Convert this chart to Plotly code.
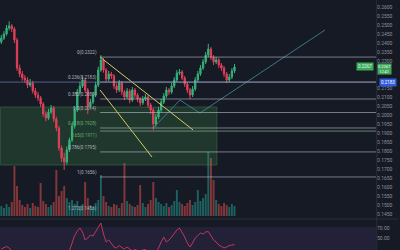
import plotly.graph_objects as go

# ---------------- data ----------------
first_open = 0.2406
close = [0.2428, 0.2450, 0.2483, 0.2495, 0.2478, 0.2417, 0.2261, 0.2228, 0.2206, 0.2195,
         0.2167, 0.2178, 0.2133, 0.2111, 0.2095, 0.2061, 0.2006, 0.1983, 0.2017, 0.2039,
         0.1978, 0.1928, 0.1817, 0.1761, 0.1739, 0.1806, 0.1861, 0.1939, 0.2028, 0.2128,
         0.2161, 0.2195, 0.2139, 0.2050, 0.2072, 0.2111, 0.2167, 0.2250, 0.2306, 0.2250,
         0.2200, 0.2228, 0.2217, 0.2161, 0.2139, 0.2178, 0.2128, 0.2100, 0.2133, 0.2083,
         0.2139, 0.2111, 0.2089, 0.2067, 0.2089, 0.2100, 0.2056, 0.2028, 0.1950, 0.1989,
         0.2028, 0.2072, 0.2106, 0.2139, 0.2128, 0.2161, 0.2195, 0.2233, 0.2239, 0.2206,
         0.2172, 0.2139, 0.2111, 0.2145, 0.2195, 0.2228, 0.2261, 0.2295, 0.2333, 0.2367,
         0.2322, 0.2295, 0.2306, 0.2278, 0.2261, 0.2228, 0.2195, 0.2211, 0.2245, 0.2267]
high = [0.2445, 0.2466, 0.2500, 0.2520, 0.2505, 0.2489, 0.2428, 0.2280, 0.2245, 0.2222,
        0.2210, 0.2200, 0.2190, 0.2150, 0.2128, 0.2106, 0.2072, 0.2020, 0.2035, 0.2056,
        0.2050, 0.1990, 0.1940, 0.1830, 0.1790, 0.1825, 0.1875, 0.1955, 0.2045, 0.2145,
        0.2185, 0.2215, 0.2206, 0.2150, 0.2090, 0.2128, 0.2185, 0.2268, 0.2333, 0.2317,
        0.2261, 0.2245, 0.2240, 0.2228, 0.2175, 0.2195, 0.2189, 0.2140, 0.2150, 0.2145,
        0.2156, 0.2150, 0.2122, 0.2100, 0.2106, 0.2117, 0.2111, 0.2067, 0.2040, 0.2006,
        0.2045, 0.2089, 0.2122, 0.2156, 0.2150, 0.2178, 0.2211, 0.2250, 0.2256, 0.2250,
        0.2217, 0.2183, 0.2150, 0.2161, 0.2211, 0.2245, 0.2278, 0.2311, 0.2350, 0.2395,
        0.2378, 0.2333, 0.2322, 0.2317, 0.2289, 0.2272, 0.2239, 0.2228, 0.2261, 0.2283]
low = [0.2395, 0.2417, 0.2440, 0.2470, 0.2461, 0.2400, 0.2245, 0.2211, 0.2190, 0.2178,
       0.2150, 0.2155, 0.2120, 0.2095, 0.2078, 0.2045, 0.1990, 0.1965, 0.1972, 0.2006,
       0.1961, 0.1910, 0.1800, 0.1740, 0.1695, 0.1725, 0.1795, 0.1850, 0.1925, 0.2017,
       0.2115, 0.2150, 0.2125, 0.2005, 0.2035, 0.2060, 0.2100, 0.2155, 0.2240, 0.2235,
       0.2185, 0.2189, 0.2200, 0.2145, 0.2122, 0.2128, 0.2110, 0.2083, 0.2089, 0.2065,
       0.2072, 0.2095, 0.2072, 0.2050, 0.2056, 0.2078, 0.2039, 0.2006, 0.1917, 0.1935,
       0.1978, 0.2017, 0.2061, 0.2095, 0.2111, 0.2117, 0.2150, 0.2183, 0.2222, 0.2195,
       0.2156, 0.2122, 0.2089, 0.2100, 0.2133, 0.2183, 0.2217, 0.2250, 0.2283, 0.2322,
       0.2306, 0.2278, 0.2283, 0.2261, 0.2245, 0.2211, 0.2178, 0.2183, 0.2200, 0.2233]
volume = [10, 8, 12, 9, 14, 50, 30, 16, 11, 9,
          12, 8, 13, 10, 9, 33, 15, 12, 9, 11,
          14, 46, 20, 25, 30, 18, 14, 16, 12, 15,
          10, 12, 34, 18, 11, 9, 13, 16, 41, 20,
          14, 10, 9, 12, 11, 8, 13, 53, 15, 12,
          10, 9, 11, 31, 13, 9, 12, 16, 34, 18,
          14, 12, 10, 13, 9, 11, 15, 26, 14, 12,
          10, 13, 16, 11, 14, 26, 15, 18, 22, 64,
          58, 36, 16, 12, 10, 13, 11, 9, 12, 10]
rsi = [28, 31, 33, 30, 24, 18, 12, 14, 16, 15,
       18, 20, 17, 16, 15, 13, 12, 11, 16, 19,
       14, 12, 9, 8, 10, 16, 24, 40, 55, 64,
       70, 62, 46, 50, 56, 54, 62, 72, 80, 58,
       42, 46, 40, 32, 30, 35, 31, 28, 32, 29,
       24, 27, 25, 22, 26, 27, 23, 20, 16, 22,
       30, 42, 52, 42, 46, 52, 60, 66, 70, 62,
       52, 40, 32, 40, 50, 55, 60, 58, 62, 63,
       54, 46, 42, 36, 33, 30, 32, 35, 36, 37]

price_ticks = [0.2600, 0.2550, 0.2500, 0.2450, 0.2400, 0.2350, 0.2300, 0.2150, 0.2100,
               0.2050, 0.2000, 0.1950, 0.1900, 0.1850, 0.1800, 0.1750, 0.1700, 0.1650,
               0.1600, 0.1550, 0.1500, 0.1450]
fib_levels = ["0", "0.236", "0.382", "0.5", "0.618", "0.65", "0.786", "1"]
fib_prices = [0.2322, 0.2183, 0.2089, 0.2014, 0.1928, 0.1911, 0.1795, 0.1656]
fib_green = ["0.618", "0.65"]
fib_ext_level = "1.272"
fib_ext_price = 0.1456
fib_start = 38
hline_price = 0.2183
countdown = "12:41"
box_x = [-0.3, 82.3]
box_y = [0.1722, 0.2045]
trend_upper_x = [37.7, 73.2]
trend_upper_y = [0.2322, 0.1917]
trend_lower_x = [37.7, 57.5]
trend_lower_y = [0.2139, 0.1767]
proj_x = [57.9, 68.2, 75.8, 123.5]
proj_y = [0.1928, 0.2083, 0.2011, 0.2472]
rsi_ticks = [30, 50, 70]

# ---------------- derived ----------------
n = len(close)
idx = list(range(n))
open_ = [first_open] + close[:-1]
X_MAX = 143.0

BG = "#161a25"
UP = "#35b27a"
DN = "#e0405a"
TXT = "#8d909a"
FONT = "Roboto"

vol_colors = ["rgba(38,166,154,0.5)" if c >= o else "rgba(239,83,80,0.5)"
              for o, c in zip(open_, close)]

fig = go.Figure()
fig.add_trace(go.Bar(x=idx, y=volume, yaxis="y2", marker_color=vol_colors,
                     marker_line_width=0, showlegend=False, hoverinfo="skip"))
fig.add_trace(go.Candlestick(x=idx, open=open_, high=high, low=low, close=close,
                             increasing=dict(line=dict(color=UP, width=1), fillcolor=UP),
                             decreasing=dict(line=dict(color=DN, width=1), fillcolor=DN),
                             whiskerwidth=0, showlegend=False))
fig.add_trace(go.Scatter(x=trend_upper_x, y=trend_upper_y, mode="lines",
                         line=dict(color="#d6cc62", width=1), showlegend=False))
fig.add_trace(go.Scatter(x=trend_lower_x, y=trend_lower_y, mode="lines",
                         line=dict(color="#d6cc62", width=1), showlegend=False))
fig.add_trace(go.Scatter(x=proj_x, y=proj_y, mode="lines",
                         line=dict(color="rgba(70,140,160,0.8)", width=1), showlegend=False))
fig.add_trace(go.Scatter(x=idx, y=rsi, yaxis="y3", mode="lines",
                         line=dict(color="#c2365e", width=1), showlegend=False))

shapes = []
shapes.append(dict(type="rect", xref="x", yref="y", x0=box_x[0], x1=box_x[1],
                   y0=box_y[0], y1=box_y[1], fillcolor="rgba(76,175,80,0.2)",
                   line=dict(color="rgba(90,170,100,0.3)", width=1), layer="below"))
shapes.append(dict(type="line", xref="x", yref="y", x0=-0.5, x1=X_MAX,
                   y0=hline_price, y1=hline_price,
                   line=dict(color="rgba(110,125,175,0.7)", width=1)))
for lv, p in zip(fib_levels, fib_prices):
    col = "rgba(150,175,160,0.7)" if lv in fib_green else "rgba(185,188,198,0.6)"
    shapes.append(dict(type="line", xref="x", yref="y", x0=fib_start - 0.3, x1=X_MAX,
                       y0=p, y1=p, line=dict(color=col, width=1)))
shapes.append(dict(type="rect", xref="paper", yref="y3", x0=0, x1=1, y0=rsi_ticks[0] - 10,
                   y1=rsi_ticks[-1] + 2, fillcolor="rgba(126,87,194,0.12)", line_width=0,
                   layer="below"))
shapes.append(dict(type="line", xref="paper", yref="paper", x0=0, x1=1.06, y0=0.124, y1=0.124,
                   line=dict(color="#2a2e39", width=1)))
shapes.append(dict(type="line", xref="paper", yref="paper", x0=1.002, x1=1.002, y0=0, y1=1,
                   line=dict(color="#2a2e39", width=1)))

annotations = []
for lv, p in zip(fib_levels, fib_prices):
    col = "#5fb36a" if lv in fib_green else "#b2b5be"
    below = (lv == "0.65")
    annotations.append(dict(x=fib_start - 0.6, y=p, xref="x", yref="y", xanchor="right",
                            yanchor="top" if below else "bottom", yshift=1 if below else -1,
                            showarrow=False, text=f"{lv}({p:.4f})",
                            font=dict(size=4.5, color=col, family=FONT)))
annotations.append(dict(x=fib_start - 0.6, y=fib_ext_price, xref="x", yref="y", xanchor="right",
                        yanchor="bottom", yshift=-1, showarrow=False,
                        text=f"{fib_ext_level}({fib_ext_price:.4f})",
                        font=dict(size=4.5, color="#b2b5be", family=FONT)))
annotations.append(dict(x=1, y=close[-1], xref="paper", yref="y", xanchor="left", xshift=1,
                        yanchor="top", yshift=4,
                        showarrow=False, text=f"{close[-1]:.4f}<br>{countdown}", bgcolor="#3ea85a",
                        borderpad=0, font=dict(size=4, color="white", family=FONT)))
annotations.append(dict(x=0.995, y=close[-1], xref="paper", yref="y", xanchor="right",
                        showarrow=False, text=f"{close[-1]:.4f}", bgcolor="#3ea85a",
                        borderpad=1, font=dict(size=4.5, color="#dfe", family=FONT)))
annotations.append(dict(x=1, y=hline_price, xref="paper", yref="y", xanchor="left", xshift=3,
                        showarrow=False, text=f"{hline_price:.4f}", bgcolor="#2f5be0",
                        borderpad=1, font=dict(size=4.5, color="white", family=FONT)))

fig.update_layout(
    width=400, height=250,
    margin=dict(l=0, r=24, t=0, b=0),
    paper_bgcolor=BG, plot_bgcolor=BG,
    showlegend=False, bargap=0.25,
    font=dict(family=FONT, size=5, color=TXT),
    xaxis=dict(range=[-0.5, X_MAX], visible=False, rangeslider=dict(visible=False),
               showgrid=False, zeroline=False),
    yaxis=dict(domain=[0.128, 1], range=[0.1428, 0.2639], side="right",
               tickvals=price_ticks, ticktext=[f"{v:.4f}" for v in price_ticks],
               showgrid=False, zeroline=False,
               ticks="", tickfont=dict(size=5, color=TXT), fixedrange=True),
    yaxis2=dict(overlaying="y", range=[-2, 216], visible=False, showgrid=False),
    yaxis3=dict(domain=[0, 0.12], range=[26, 86], side="right", anchor="x",
                tickvals=rsi_ticks, ticktext=[f"{v:.2f}" for v in rsi_ticks],
                showgrid=False, zeroline=False, ticks="", tickfont=dict(size=5, color=TXT)),
    shapes=shapes, annotations=annotations,
)

fig.write_html("out.html")
